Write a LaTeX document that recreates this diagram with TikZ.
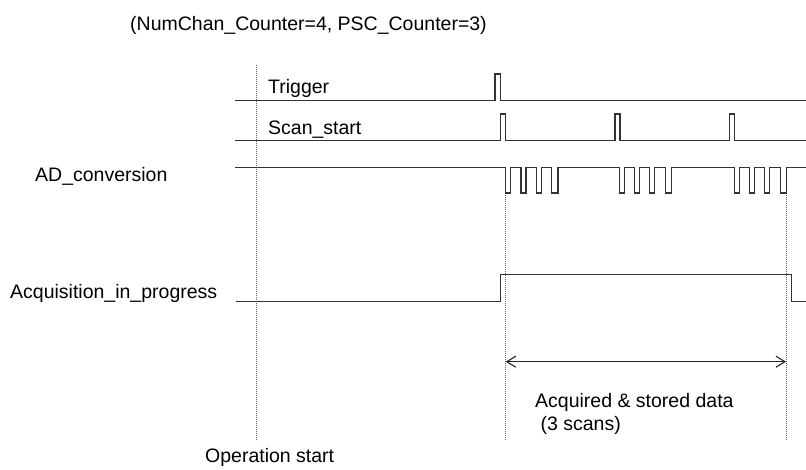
\documentclass[tikz,border=0pt]{standalone}
\usepackage{fontspec}
\setmainfont{Liberation Sans}
\usetikzlibrary{arrows.meta}

\tikzset{
	signal/.style={line width=1.3pt, black!80, line join=miter},
	guide/.style={black!60, line width=0.7pt, dash pattern=on 0.9pt off 1.1pt},
	span/.style={line width=1.1pt, black!85, {Straight Barb[length=9pt,width=11pt]}-{Straight Barb[length=9pt,width=11pt]}},
	lbl/.style={anchor=base west, inner sep=0pt, font=\fontsize{19.5}{23}\selectfont},
}

\begin{document}
\begin{tikzpicture}[x=1pt,y=-1pt]
	\useasboundingbox (0,0) rectangle (806,470);

	% labels
	\node[lbl] (title) at (130,31) {(NumChan\_Counter=4, PSC\_Counter=3)};
	\node[lbl] (trig) at (268,94) {Trigger};
	\node[lbl] (scan) at (268,135) {Scan\_start};
	\node[lbl] (adc) at (35,182) {AD\_conversion};
	\node[lbl] (acq) at (10,299) {Acquisition\_in\_progress};
	\node[lbl] (stored) at (535,407) {Acquired \& stored data};
	\node[lbl] (scans) at (535,430) {\ (3 scans)};
	\node[lbl] (opstart) at (205,462) {Operation start};

	% guide lines
	\coordinate (op-top) at (256,65);
	\coordinate (op-bot) at (256,441);
	\coordinate (first-top) at (505.7,193);
	\coordinate (first-bot) at (505.7,440);
	\coordinate (last-top) at (786,193);
	\coordinate (last-bot) at (786,440);
	\draw[guide] (op-top) -- (op-bot);
	\draw[guide] (first-top) -- (first-bot);
	\draw[guide] (last-top) -- (last-bot);

	% waveforms
	\draw[signal] (235,100.7) -- (495,100.7) -- (495,74) -- (500.7,74) -- (500.7,100.7) -- (806,100.7);
	\draw[signal] (235,140.7) \foreach \s in {500.7,615,729.3} {
		-- (\s,140.7) -- (\s,114) -- ({\s+5},114) -- ({\s+5},140.7)} -- (806,140.7);
	\draw[signal] (235,167.7) \foreach \b in {505.7,619.3,734.3} {
		\foreach \o/\w in {0/5,15.2/5,30.5/5,46/6.3} {
			-- ({\b+\o},167.7) -- ({\b+\o},193) -- ({\b+\o+\w},193) -- ({\b+\o+\w},167.7)}} -- (806,167.7);
	\draw[signal] (235.7,301.7) -- (500.7,301.7) -- (500.7,274.7) -- (791.7,274.7) -- (791.7,301.7) -- (806,301.7);

	% acquired span
	\coordinate (span-l) at (505.7,361.7);
	\coordinate (span-r) at (786,361.7);
	\draw[span] (span-l) -- (span-r);
\end{tikzpicture}
\end{document}
